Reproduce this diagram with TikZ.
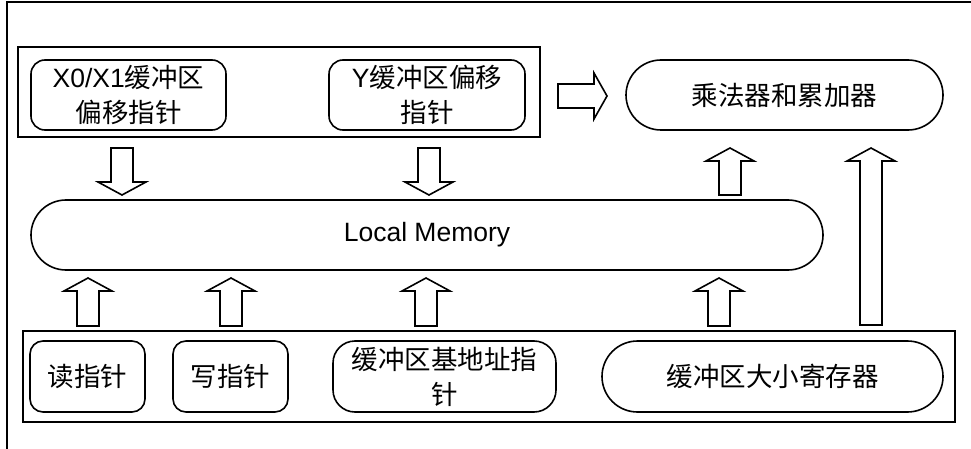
\documentclass[tikz,border=0pt]{standalone}
\usepackage{fontspec}
\setmainfont{Liberation Sans}
\newfontfamily\cjk{Noto Sans CJK SC}
\newfontfamily\lat{Liberation Sans}
\usetikzlibrary{positioning}

\begin{document}
\begin{tikzpicture}[
  x=1pt, y=-1pt,
  line width=1.6pt,
  box/.style={rectangle, draw, rounded corners=14pt, minimum height=70pt, inner sep=0pt, outer sep=0pt, align=center, font=\fontsize{26.5}{35}\selectfont\cjk},
  pill/.style={box, rounded corners=35pt},
  grp/.style={rectangle, draw, inner sep=0pt, outer sep=0pt},
  hollow/.style={draw, line join=miter, fill=white},
]
\useasboundingbox (0,0) rectangle (971,449);
\draw (7,449) -- (7,2) -- (971,2);

% top row
\node[grp, minimum width=522pt, minimum height=90pt, anchor=north west] (topgrp) at (18,47) {};
\node[box, minimum width=195pt, anchor=north west] (ptrx) at (31,60) {{\lat X0/X1}缓冲区\\偏移指针};
\node[box, minimum width=196pt, right=103pt of ptrx] (ptry) {{\lat Y}缓冲区偏移\\指针};
\node[pill, minimum width=317pt, right=101pt of ptry] (mac) {乘法器和累加器};

% memory
\node[pill, minimum width=792pt, anchor=north west] (mem) at (31,200) {\lat Local Memory};

% bottom row
\node[grp, minimum width=932pt, minimum height=91pt, anchor=north west] (botgrp) at (23,331) {};
\node[box, minimum width=115pt, minimum height=71pt, rounded corners=13pt, anchor=north west] (rdptr) at (30,341) {读指针};
\node[box, minimum width=115pt, minimum height=71pt, rounded corners=13pt, right=28pt of rdptr] (wrptr) {写指针};
\node[box, minimum width=223pt, minimum height=71pt, rounded corners=22pt, right=45pt of wrptr] (baseptr) {缓冲区基地址指\\针};
\node[pill, minimum width=341pt, minimum height=71pt, rounded corners=35.5pt, right=46pt of baseptr] (sizereg) {缓冲区大小寄存器};

% arrows
\foreach \x/\ya/\yb in {122/148/195, 429/148/195, 88/326/278, 231/326/278, 426/326/278, 719/326/278, 730/195/148, 871/325/148}{
  \pgfmathsetmacro\yh{\yb-13*sign(\yb-\ya)}
  \draw[hollow] (\x-11,\ya) -- (\x-11,\yh) -- (\x-24,\yh) -- (\x,\yb) -- (\x+24,\yh) -- (\x+11,\yh) -- (\x+11,\ya) -- cycle;
}
\draw[hollow] (558,84) -- (594,84) -- (594,73) -- (607,96) -- (594,119) -- (594,108) -- (558,108) -- cycle;

\end{tikzpicture}
\end{document}
